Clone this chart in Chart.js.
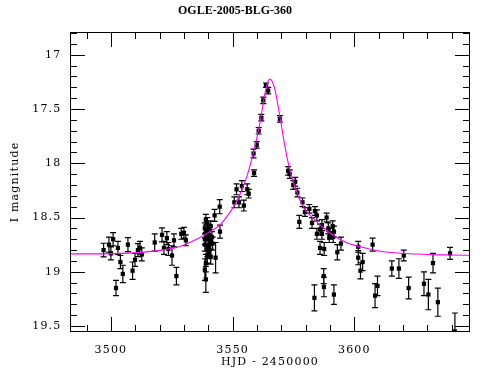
<!DOCTYPE html>
<html><head><meta charset="utf-8">
<script src="https://cdn.jsdelivr.net/npm/chart.js@4/dist/chart.umd.min.js"></script>
<style>html,body{margin:0;padding:0;background:#fff}</style>
</head><body>
<canvas id="c" width="490" height="380" style="width:490px;height:380px;display:block"></canvas>
<script>
const chartTitle = 'OGLE-2005-BLG-360';
const xTitle = 'HJD - 2450000';
const yTitle = 'I magnitude';
const xTickValues = [3500, 3550, 3600];
const yTickValues = [17, 17.5, 18, 18.5, 19, 19.5];

const hjd = [
  3497.0,3499.2,3500.0,3500.9,3502.9,3502.1,3503.9,3504.9,3507.0,3508.9,3509.9,3511.1,3511.9,3512.7,
  3518.0,3521.0,3521.8,3523.0,3523.6,3525.1,3525.9,3526.9,3528.9,3530.0,3530.8,
  3538.6,3539.0,3539.6,3538.6,3540.0,3541.0,3539.0,3540.4,3539.0,3540.4,3541.5,3538.6,3540.0,3541.0,
  3541.8,3539.6,3540.4,3539.6,3541.0,3543.0,3539.0,3538.6,3539.0,
  3542.6,3544.7,3544.8,3550.7,3551.6,3552.6,3553.8,3554.6,3556.0,3556.6,3558.8,
  3558.6,3559.9,3560.7,3561.8,3562.6,3563.7,3564.6,3569.4,
  3572.8,3573.5,3574.9,3575.7,3576.6,3578.7,3579.7,3581.5,3577.4,3582.6,3583.8,3584.6,3588.6,3584.6,
  3585.9,3586.7,3586.7,3589.3,3589.7,3590.0,3591.1,3591.6,3591.3,3594.5,3593.0,3585.9,3587.6,3587.4,
  3587.5,3583.6,3591.6,
  3601.6,3601.6,3602.5,3603.4,3607.5,3608.5,3609.5,3615.4,3618.3,3620.3,3622.3,3628.6,3630.4,3632.3,
  3634.3,3639.3,3641.3
];
const mag = [
  18.80,18.75,18.83,18.70,18.78,19.15,18.91,19.02,18.75,18.99,18.89,18.80,18.78,18.84,
  18.73,18.66,18.78,18.69,18.79,18.85,18.71,19.04,18.65,18.64,18.71,
  18.60,18.52,18.55,18.70,18.61,18.58,18.64,18.66,18.69,18.71,18.68,18.75,18.77,18.74,
  18.74,18.80,18.82,18.85,18.86,18.87,18.92,18.98,19.07,
  18.48,18.40,18.63,18.36,18.24,18.36,18.21,18.39,18.24,18.28,18.09,
  17.91,17.83,17.70,17.58,17.42,17.28,17.33,17.59,
  18.07,18.10,18.20,18.17,18.27,18.36,18.45,18.42,18.54,18.55,18.44,18.48,18.50,18.65,
  18.61,18.57,18.65,18.60,18.68,18.65,18.58,18.63,18.68,18.74,18.82,18.78,18.79,19.04,
  19.14,19.24,19.21,
  18.77,18.87,18.99,18.91,18.75,19.22,19.13,18.97,18.97,18.85,19.15,19.11,19.21,18.92,
  19.28,18.83,19.55
];
const magErr = [
  0.063,0.07,0.06,0.06,0.06,0.07,0.06,0.08,0.065,0.08,0.06,0.06,0.06,0.06,
  0.08,0.065,0.06,0.06,0.06,0.09,0.06,0.08,0.05,0.05,0.05,
  0.05,0.05,0.05,0.05,0.05,0.05,0.05,0.05,0.05,0.05,0.05,0.06,0.06,0.06,
  0.06,0.06,0.06,0.07,0.07,0.14,0.08,0.10,0.12,
  0.055,0.065,0.06,0.05,0.05,0.05,0.05,0.05,0.05,0.04,0.03,
  0.04,0.03,0.03,0.03,0.03,0.02,0.03,0.03,
  0.04,0.04,0.04,0.04,0.04,0.04,0.04,0.04,0.06,0.05,0.04,0.05,0.04,0.05,
  0.05,0.05,0.05,0.05,0.05,0.05,0.05,0.05,0.05,0.06,0.07,0.06,0.06,0.07,
  0.09,0.12,0.09,
  0.05,0.065,0.075,0.08,0.06,0.11,0.09,0.07,0.09,0.05,0.10,0.11,0.14,0.09,
  0.13,0.055,0.17
];

const modelHjd = [3483.2,3491.4,3507.8,3520.1,3528.3,3536.6,3540.7,3544.8,3548.9,3550.9,3553.0,3555.8,3558.5,
  3561.2,3563.3,3564.5,3565.3,3566.1,3567.4,3569.4,3571.5,3573.5,3575.6,3577.6,3580.4,3583.1,3585.9,
  3590.0,3596.8,3602.3,3611.9,3625.6,3639.3,3647.5];
const modelMag = [18.835,18.835,18.828,18.803,18.767,18.684,18.630,18.568,18.453,18.379,18.287,18.125,17.907,
  17.630,17.353,17.249,17.224,17.240,17.323,17.569,17.846,18.061,18.215,18.338,18.446,18.506,18.568,
  18.645,18.732,18.768,18.815,18.836,18.845,18.848];

const FONT = 'DejaVu Serif';
const LS = '1.2px';

const spacingPlugin = {
  id: 'spacing',
  beforeLayout(chart) { chart.ctx.letterSpacing = LS; },
  beforeDraw(chart) {
    chart.ctx.letterSpacing = LS;
    const tb = chart.titleBlock;
    if (tb && !tb._wrapped) {
      const orig = tb.draw;
      tb.draw = function () {
        const c = this.ctx; const prev = c.letterSpacing;
        c.letterSpacing = '0px'; orig.apply(this, arguments); c.letterSpacing = prev;
      };
      tb._wrapped = true;
    }
  }
};

const errorBars = {
  id: 'errorBars',
  beforeDatasetsDraw(chart) {
    const {ctx, chartArea: a, scales: {x, y}} = chart;
    ctx.save();
    ctx.beginPath(); ctx.rect(a.left, a.top, a.right - a.left, a.bottom - a.top); ctx.clip();
    ctx.strokeStyle = '#000'; ctx.lineWidth = 1.2;
    ctx.beginPath();
    for (let i = 0; i < hjd.length; i++) {
      const px = x.getPixelForValue(hjd[i]);
      const y1 = y.getPixelForValue(mag[i] - magErr[i]);
      const y2 = y.getPixelForValue(mag[i] + magErr[i]);
      ctx.moveTo(px, y1); ctx.lineTo(px, y2);
      ctx.moveTo(px - 3, y1); ctx.lineTo(px + 3, y1);
      ctx.moveTo(px - 3, y2); ctx.lineTo(px + 3, y2);
    }
    ctx.stroke();
    ctx.restore();
  }
};

const frameTicks = {
  id: 'frameTicks',
  afterDraw(chart) {
    const {ctx, chartArea: a, scales: {x, y}} = chart;
    ctx.save();
    ctx.strokeStyle = '#000'; ctx.lineWidth = 1;
    ctx.strokeRect(a.left + 0.5, a.top + 0.5, a.right - a.left - 1, a.bottom - a.top - 1);
    ctx.beginPath();
    const k0 = Math.ceil(x.min / 10), k1 = Math.floor(x.max / 10);
    for (let k = k0; k <= k1; k++) {
      const len = (k % 5 === 0) ? 15 : 7;
      const px = Math.round(x.getPixelForValue(k * 10)) + 0.5;
      ctx.moveTo(px, a.bottom); ctx.lineTo(px, a.bottom - len);
      ctx.moveTo(px, a.top); ctx.lineTo(px, a.top + len);
    }
    const j0 = Math.ceil(Math.min(y.min, y.max) * 10 - 1e-6), j1 = Math.floor(Math.max(y.min, y.max) * 10 + 1e-6);
    for (let j = j0; j <= j1; j++) {
      const len = (j % 5 === 0) ? 15 : 7;
      const py = Math.round(y.getPixelForValue(j / 10)) + 0.5;
      ctx.moveTo(a.left, py); ctx.lineTo(a.left + len, py);
      ctx.moveTo(a.right, py); ctx.lineTo(a.right - len, py);
    }
    ctx.stroke();
    ctx.restore();
  }
};

new Chart(document.getElementById('c'), {
  type: 'scatter',
  data: {
    datasets: [
      {
        label: 'model',
        data: modelHjd.map((v, i) => ({x: v, y: modelMag[i]})),
        showLine: true, borderColor: '#ff00ff', borderWidth: 1.1,
        pointRadius: 0, cubicInterpolationMode: 'monotone', order: 0
      },
      {
        label: 'OGLE I',
        data: hjd.map((v, i) => ({x: v, y: mag[i]})),
        pointStyle: 'rect', pointRadius: 3, backgroundColor: '#000',
        borderColor: '#000', borderWidth: 0, order: 1
      }
    ]
  },
  options: {
    responsive: false, animation: false, devicePixelRatio: 1,
    layout: {padding: {left: 0, right: 20, top: 0, bottom: 0}},
    plugins: {
      legend: {display: false},
      tooltip: {enabled: false},
      title: {
        display: true, text: chartTitle, color: '#000',
        font: {family: 'Liberation Serif', size: 12, weight: 'bold', lineHeight: 1.2},
        padding: {top: 4, bottom: 13.6}
      }
    },
    scales: {
      x: {
        type: 'linear', min: 3483.2, max: 3647.5,
        afterBuildTicks: s => { s.ticks = xTickValues.map(v => ({value: v})); },
        afterFit: s => { s.height = 48; },
        grid: {display: false, drawTicks: false},
        border: {display: false},
        ticks: {color: '#000', padding: 12, maxRotation: 0, autoSkip: false,
          font: {family: FONT, size: 11}, callback: v => String(v)},
        title: {display: true, text: xTitle, color: '#000',
          font: {family: FONT, size: 11, lineHeight: 1.2}, padding: {top: 0, bottom: 11.4}}
      },
      y: {
        type: 'linear', reverse: true, min: 16.79, max: 19.555,
        afterBuildTicks: s => { s.ticks = yTickValues.map(v => ({value: v})); },
        afterFit: s => { s.width = 70; },
        grid: {display: false, drawTicks: false},
        border: {display: false},
        ticks: {color: '#000', padding: 8.5, autoSkip: false,
          font: {family: FONT, size: 11}, callback: v => String(v)},
        title: {display: true, text: yTitle, color: '#000',
          font: {family: FONT, size: 11, lineHeight: 1.2}, padding: {top: 9, bottom: 0}}
      }
    }
  },
  plugins: [spacingPlugin, errorBars, frameTicks]
});
</script>
</body></html>
